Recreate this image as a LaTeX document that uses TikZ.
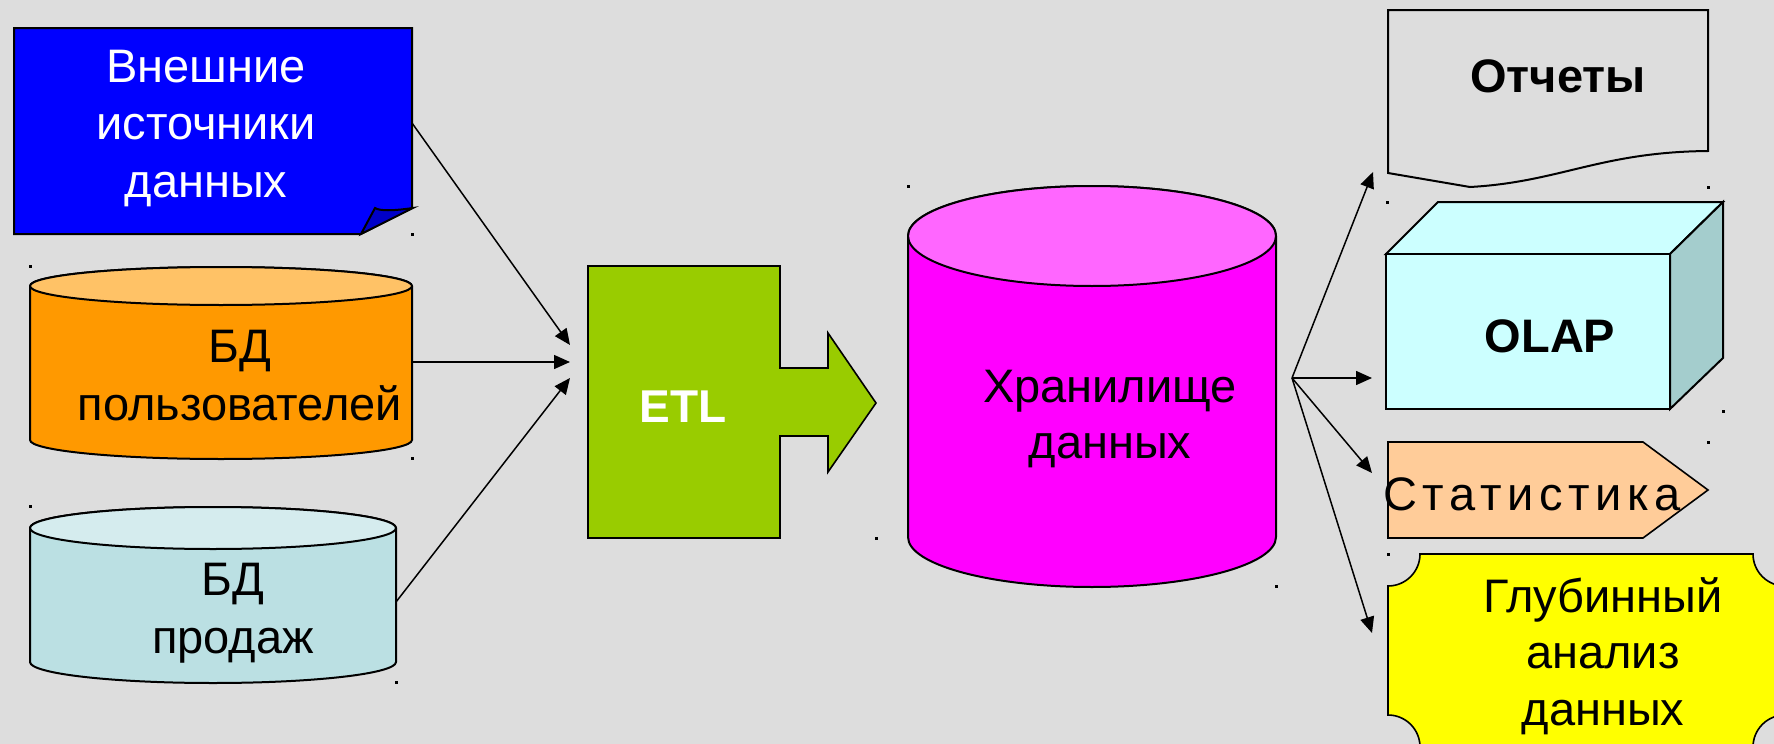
\documentclass[tikz,border=0pt]{standalone}
\usepackage{fontspec}
\setmainfont{Liberation Sans}
\newfontfamily\spacedfont[LetterSpace=12]{Liberation Sans}
\usetikzlibrary{arrows.meta}

\definecolor{bg}{RGB}{221,221,221}
\definecolor{srcblue}{RGB}{0,0,255}
\definecolor{foldblue}{RGB}{0,0,200}
\definecolor{usrbody}{RGB}{255,153,0}
\definecolor{usrtop}{RGB}{255,194,102}
\definecolor{salesbody}{RGB}{187,224,227}
\definecolor{salestop}{RGB}{213,236,238}
\definecolor{etlgreen}{RGB}{153,204,0}
\definecolor{dwhbody}{RGB}{255,0,255}
\definecolor{dwhtop}{RGB}{255,102,255}
\definecolor{cubefront}{RGB}{204,255,255}
\definecolor{cubeside}{RGB}{164,205,205}
\definecolor{statfill}{RGB}{255,204,153}
\definecolor{minefill}{RGB}{255,255,0}

% database drum: left, right, top centre y, bottom centre y, half height of the ends, body, top
\newcommand\drum[7]{%
  \pgfmathsetmacro\drx{(#2-#1)/4}%
  \pgfmathsetmacro\dry{#5/2}%
  \filldraw[outline,fill=#6] (#1,#3) -- (#1,#4)
    arc[start angle=180,end angle=360,x radius=\drx pt,y radius=\dry pt]
    -- (#2,#3) arc[start angle=0,end angle=180,x radius=\drx pt,y radius=\dry pt] -- cycle;
  \filldraw[outline,fill=#7] (#1,#3)
    arc[start angle=180,end angle=540,x radius=\drx pt,y radius=\dry pt];
}

\begin{document}
\begin{tikzpicture}[x=0.5pt,y=-0.5pt,
  outline/.style={draw=black,line width=1pt,line join=miter},
  link/.style={draw=black,line width=0.75pt,-{Triangle[length=8pt,width=7pt]}},
  txt/.style={inner sep=0pt,anchor=base,align=center,
    font=\fontsize{23.5}{28.75}\selectfont},
  boldtxt/.style={txt,font=\fontsize{23.5}{28.75}\selectfont\bfseries}]

\useasboundingbox (0,0) rectangle (1774,744);
\clip (0,0) rectangle (1774,744);
\fill[bg] (0,0) rectangle (1774,744);

% external sources: sheet with a curled corner
\filldraw[outline,fill=srcblue] (14,28) -- (412,28) -- (412,208) -- (361,234) -- (14,234) -- cycle;
\filldraw[outline,fill=foldblue] (361,234) -- (375,208)
  .. controls (380,211) and (392,211) .. (413,208) -- cycle;
\node[txt,text=white] (ext) at (206,197) {Внешние\\источники\\данных};

% user and sales databases
\drum{30}{412}{286}{440}{19}{usrbody}{usrtop}
\node[txt] (usr) at (240,420) {БД\\пользователей};
\drum{30}{396}{528}{662}{21}{salesbody}{salestop}
\node[txt] (sales) at (233,653) {БД\\продаж};

% ETL block arrow
\filldraw[outline,line width=0.8pt,fill=etlgreen] (588,266) -- (780,266) -- (780,368) -- (828,368)
  -- (828,333) -- (876,403) -- (828,472) -- (828,436) -- (780,436) -- (780,538) -- (588,538) -- cycle;
\node[boldtxt,text=white,font=\fontsize{23}{28}\selectfont\bfseries] (etl) at (683,422) {ETL};

% data warehouse
\drum{908}{1276}{236}{537}{50}{dwhbody}{dwhtop}
\node[txt,font=\fontsize{23.5}{28}\selectfont] (dwh) at (1110,458) {Хранилище\\данных};

% reports: document shape
\draw[outline] (1388,10) -- (1708,10) -- (1708,151)
  .. controls (1600,152) and (1560,182) .. (1470,187) -- (1388,173) -- cycle;
\node[boldtxt] (rep) at (1558,92) {Отчеты};

% OLAP cube
\filldraw[outline,fill=cubefront] (1386,254) -- (1438,202) -- (1723,202) -- (1670,254) -- cycle;
\filldraw[outline,fill=cubeside] (1670,254) -- (1723,202) -- (1723,358) -- (1670,409) -- cycle;
\filldraw[outline,fill=cubefront] (1386,254) rectangle (1670,409);
\node[boldtxt] (olap) at (1550,352) {OLAP};

% statistics: pentagon arrow
\filldraw[outline,line width=0.8pt,fill=statfill] (1388,442) -- (1643,442) -- (1708,490) -- (1643,538) -- (1388,538) -- cycle;
\node[txt,anchor=base west,font=\fontsize{23.5}{28.75}\spacedfont] (stat) at (1383,510) {Статистика};

% data mining: plaque with concave corners
\filldraw[outline,line width=0.8pt,fill=minefill] (1420,554) -- (1753,554)
  arc[start angle=180,end angle=270,radius=16pt] -- (1785,715)
  arc[start angle=90,end angle=180,radius=16pt] -- (1420,747)
  arc[start angle=0,end angle=90,radius=16pt] -- (1388,586)
  arc[start angle=270,end angle=360,radius=16pt] -- cycle;
\node[txt,font=\fontsize{23.5}{28.25}\selectfont] (mine) at (1603,725) {Глубинный\\анализ\\данных};

% connector end points
\coordinate (extOut) at (412,123);
\coordinate (usrOut) at (412,362);
\coordinate (salesOut) at (396,602);
\coordinate (etlIn1) at (570,345);
\coordinate (etlIn2) at (570,362);
\coordinate (etlIn3) at (570,378);
\coordinate (hub) at (1292,378);
\coordinate (repIn) at (1373,172);
\coordinate (olapIn) at (1372,378);
\coordinate (statIn) at (1372,473);
\coordinate (mineIn) at (1372,633);

% sources into ETL
\draw[link] (extOut) -- (etlIn1);
\draw[link] (usrOut) -- (etlIn2);
\draw[link] (salesOut) -- (etlIn3);

% warehouse out to the consumers
\draw[link] (hub) -- (repIn);
\draw[link] (hub) -- (olapIn);
\draw[link] (hub) -- (statIn);
\draw[link] (hub) -- (mineIn);

% selection handles left on the shapes
\foreach \hx/\hy in {412/234,30/266,412/458,30/506,396/682,908/186,876/538,1276/586,
                     1708/187,1387/202,1723/411,1708/442,1388/554}
  \fill[black] (\hx-1.5,\hy-1.5) rectangle (\hx+1.5,\hy+1.5);
\end{tikzpicture}
\end{document}
